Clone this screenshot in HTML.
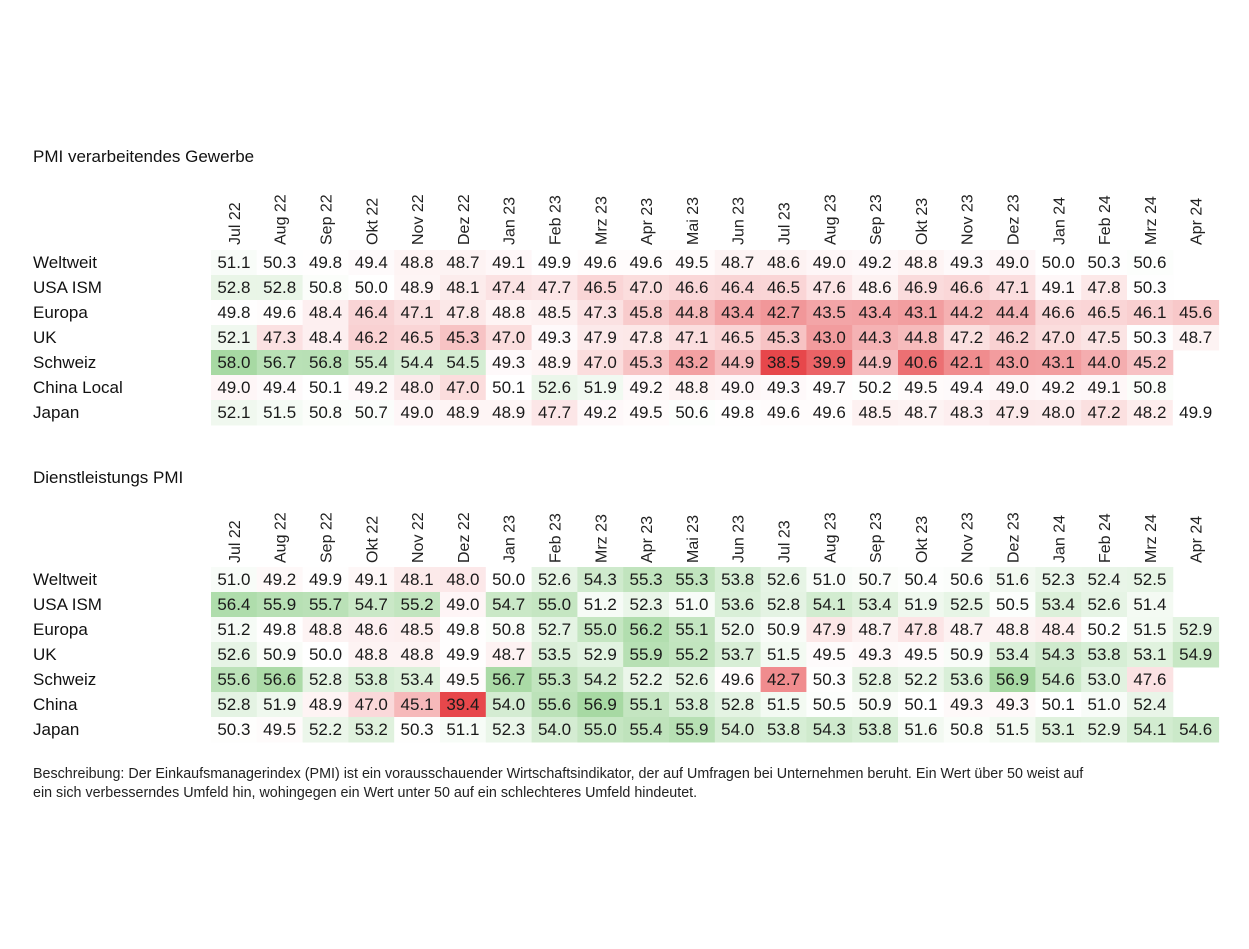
<!DOCTYPE html>
<html><head><meta charset="utf-8"><style>
body{margin:0;background:#fff;}
svg{display:block;font-family:"Liberation Sans",Arial,sans-serif;}
</style></head><body>
<svg id="chart" width="1249" height="949" viewBox="0 0 1249 949" xmlns="http://www.w3.org/2000/svg"></svg>
<script>
const months=["Jul 22","Aug 22","Sep 22","Okt 22","Nov 22","Dez 22","Jan 23","Feb 23","Mrz 23","Apr 23","Mai 23","Jun 23","Jul 23","Aug 23","Sep 23","Okt 23","Nov 23","Dez 23","Jan 24","Feb 24","Mrz 24","Apr 24"];
const mfgRows=["Weltweit","USA ISM","Europa","UK","Schweiz","China Local","Japan"];
const mfgWeltweit=[51.1,50.3,49.8,49.4,48.8,48.7,49.1,49.9,49.6,49.6,49.5,48.7,48.6,49.0,49.2,48.8,49.3,49.0,50.0,50.3,50.6,null];
const mfgUSA=[52.8,52.8,50.8,50.0,48.9,48.1,47.4,47.7,46.5,47.0,46.6,46.4,46.5,47.6,48.6,46.9,46.6,47.1,49.1,47.8,50.3,null];
const mfgEuropa=[49.8,49.6,48.4,46.4,47.1,47.8,48.8,48.5,47.3,45.8,44.8,43.4,42.7,43.5,43.4,43.1,44.2,44.4,46.6,46.5,46.1,45.6];
const mfgUK=[52.1,47.3,48.4,46.2,46.5,45.3,47.0,49.3,47.9,47.8,47.1,46.5,45.3,43.0,44.3,44.8,47.2,46.2,47.0,47.5,50.3,48.7];
const mfgSchweiz=[58.0,56.7,56.8,55.4,54.4,54.5,49.3,48.9,47.0,45.3,43.2,44.9,38.5,39.9,44.9,40.6,42.1,43.0,43.1,44.0,45.2,null];
const mfgChina=[49.0,49.4,50.1,49.2,48.0,47.0,50.1,52.6,51.9,49.2,48.8,49.0,49.3,49.7,50.2,49.5,49.4,49.0,49.2,49.1,50.8,null];
const mfgJapan=[52.1,51.5,50.8,50.7,49.0,48.9,48.9,47.7,49.2,49.5,50.6,49.8,49.6,49.6,48.5,48.7,48.3,47.9,48.0,47.2,48.2,49.9];
const svcRows=["Weltweit","USA ISM","Europa","UK","Schweiz","China","Japan"];
const svcWeltweit=[51.0,49.2,49.9,49.1,48.1,48.0,50.0,52.6,54.3,55.3,55.3,53.8,52.6,51.0,50.7,50.4,50.6,51.6,52.3,52.4,52.5,null];
const svcUSA=[56.4,55.9,55.7,54.7,55.2,49.0,54.7,55.0,51.2,52.3,51.0,53.6,52.8,54.1,53.4,51.9,52.5,50.5,53.4,52.6,51.4,null];
const svcEuropa=[51.2,49.8,48.8,48.6,48.5,49.8,50.8,52.7,55.0,56.2,55.1,52.0,50.9,47.9,48.7,47.8,48.7,48.8,48.4,50.2,51.5,52.9];
const svcUK=[52.6,50.9,50.0,48.8,48.8,49.9,48.7,53.5,52.9,55.9,55.2,53.7,51.5,49.5,49.3,49.5,50.9,53.4,54.3,53.8,53.1,54.9];
const svcSchweiz=[55.6,56.6,52.8,53.8,53.4,49.5,56.7,55.3,54.2,52.2,52.6,49.6,42.7,50.3,52.8,52.2,53.6,56.9,54.6,53.0,47.6,null];
const svcChina=[52.8,51.9,48.9,47.0,45.1,39.4,54.0,55.6,56.9,55.1,53.8,52.8,51.5,50.5,50.9,50.1,49.3,49.3,50.1,51.0,52.4,null];
const svcJapan=[50.3,49.5,52.2,53.2,50.3,51.1,52.3,54.0,55.0,55.4,55.9,54.0,53.8,54.3,53.8,51.6,50.8,51.5,53.1,52.9,54.1,54.6];

const svg=document.getElementById('chart');
const NS="http://www.w3.org/2000/svg";
const X0=211, CW=45.8, RH=25;
function xPos(i){return X0+i*CW;}
function mk(t,a){const e=document.createElementNS(NS,t);for(const k in a)e.setAttribute(k,a[k]);return e;}
function color(v,mn,mx){
  if(v<=50){let t=Math.min(1,(50-v)/(50-mn));t=Math.pow(t,1.25);return `rgb(${Math.round(255-t*24)},${Math.round(255-t*184)},${Math.round(255-t*180)})`;}
  let t=Math.min(1,(v-50)/(mx-50));t=Math.pow(t,1.3);return `rgb(${Math.round(255-t*88)},${Math.round(255-t*38)},${Math.round(255-t*92)})`;
}
function table(title,titleY,headBottom,rowTop,names,data,key){
  const g=mk('g',{});
  
  
  svg.appendChild(g);
  const tt=mk('text',{x:33,y:titleY,'font-size':17,fill:'#111'});tt.textContent=title;
  
  
  g.appendChild(tt);
  months.forEach((m,i)=>{
    const cx=xPos(i)+CW/2+6;
    const t=mk('text',{x:0,y:0,'font-size':16,fill:'#222','text-anchor':'start',transform:`translate(${cx},${headBottom}) rotate(-90)`});
    t.textContent=m;
    
    
    g.appendChild(t);
  });
  const all=data.flat().filter(v=>v!=null);
  const mn=Math.min(...all), mx=Math.max(...all);
  names.forEach((n,r)=>{
    const y=rowTop+r*RH;
    const l=mk('text',{x:33,y:y+18,'font-size':17,fill:'#111'});l.textContent=n;
    
    
    g.appendChild(l);
    data[r].forEach((v,i)=>{
      if(v==null)return;
      const rc=mk('rect',{x:xPos(i),y:y,width:CW+0.5,height:RH+0.5,fill:color(v,mn,mx)});
      
      
      g.appendChild(rc);
      const tx=mk('text',{x:xPos(i)+CW/2,y:y+18,'font-size':17,fill:'#1a1a1a','text-anchor':'middle'});
      tx.textContent=v.toFixed(1);
      
      
      g.appendChild(tx);
    });
  });
}
table("PMI verarbeitendes Gewerbe",162,245,250,mfgRows,[mfgWeltweit,mfgUSA,mfgEuropa,mfgUK,mfgSchweiz,mfgChina,mfgJapan],'manufacturing');
table("Dienstleistungs PMI",483,563,567,svcRows,[svcWeltweit,svcUSA,svcEuropa,svcUK,svcSchweiz,svcChina,svcJapan],'services');
const d1=mk('text',{x:33,y:778,'font-size':14.3,fill:'#222'});
d1.textContent="Beschreibung: Der Einkaufsmanagerindex (PMI) ist ein vorausschauender Wirtschaftsindikator, der auf Umfragen bei Unternehmen beruht. Ein Wert über 50 weist auf";


svg.appendChild(d1);
const d2=mk('text',{x:33,y:797,'font-size':14.3,fill:'#222'});
d2.textContent="ein sich verbesserndes Umfeld hin, wohingegen ein Wert unter 50 auf ein schlechteres Umfeld hindeutet.";


svg.appendChild(d2);
</script>
</body></html>
